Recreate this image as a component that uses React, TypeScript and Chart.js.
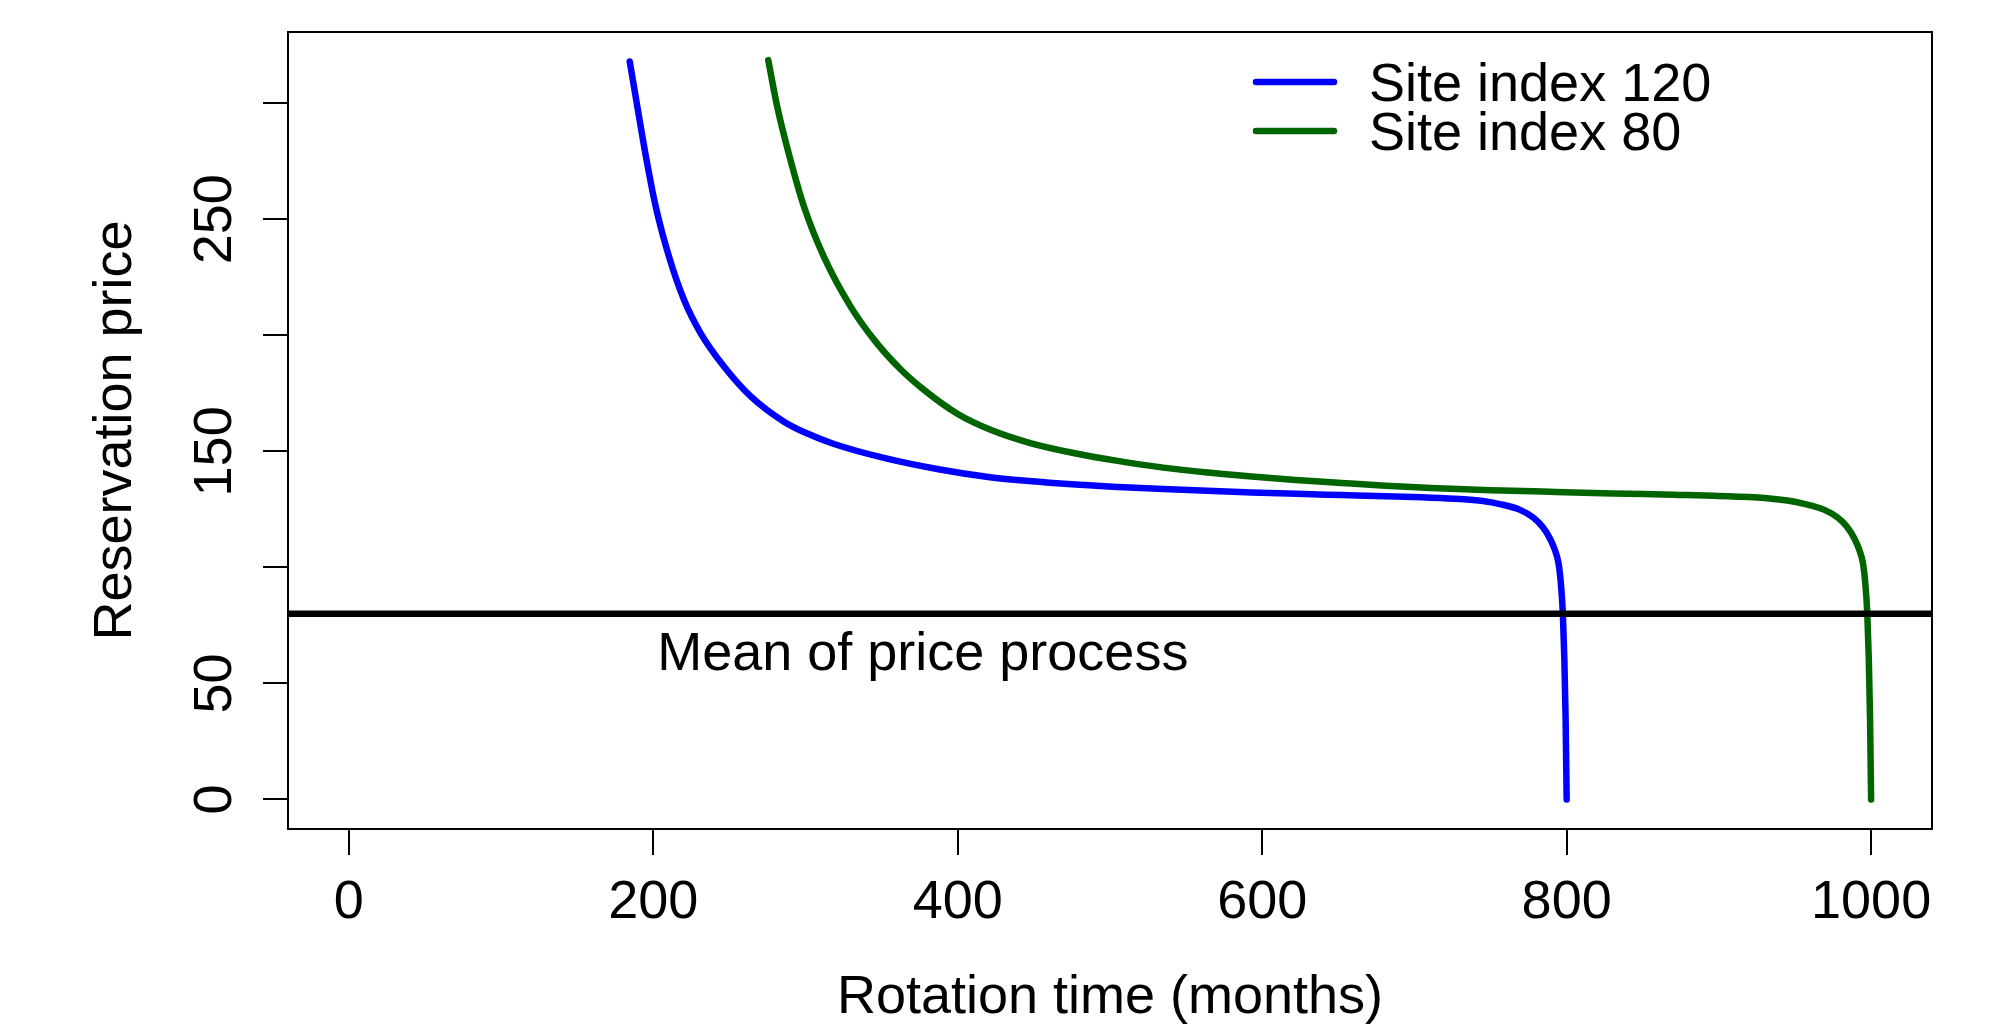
import React, { useEffect, useRef } from 'react';
import { Chart, registerables } from 'chart.js';

Chart.register(...registerables);

// ---- data ----
const X_TICKS = [0, 200, 400, 600, 800, 1000];
const Y_TICKS = [0, 50, 100, 150, 200, 250, 300];
const Y_TICK_LABELS = ['0', '50', '', '150', '', '250', ''];
const X_MIN = -40;
const X_MAX = 1040;
const Y_MIN = -12.72;
const Y_MAX = 330.72;

const SI120_X = [184.5, 189.5, 195, 201.6, 210.3, 220.2, 231.1, 246.4, 264, 285.8, 300, 318.7, 351.5, 388.2, 420, 446.9, 475, 505.5, 535, 564, 593, 622.7, 652, 681.3, 705, 730, 745, 756, 769, 778, 784, 789, 792.2, 794.6, 796.2, 797.5, 798.5, 799.3, 800];
const SI120_Y = [318, 298.5, 277.5, 255.4, 233.9, 215.2, 200.9, 186.6, 173.7, 162.8, 158.0, 153.2, 147.2, 142.2, 139.0, 137.2, 135.8, 134.7, 133.8, 133.0, 132.3, 131.7, 131.2, 130.7, 130.2, 129.5, 128.6, 127.3, 124.9, 121.5, 117.6, 112.5, 107.6, 102, 93, 80, 60, 35, 0];

const SI80_X = [275.5, 281.4, 289.5, 299, 312, 329.6, 346, 362.4, 377.8, 400, 421.5, 447, 476, 505, 535, 564, 593, 622, 652, 681, 711, 750, 789, 830, 870, 900, 930, 945, 956, 969, 978, 984, 989, 992.2, 994.6, 996.2, 997.5, 998.5, 999.3, 1000];
const SI80_Y = [318.6, 298.5, 277, 255.4, 233.9, 212.4, 197.3, 185.4, 176.5, 166.1, 159.3, 153.7, 149.3, 145.9, 143.0, 140.9, 139.2, 137.7, 136.4, 135.2, 134.2, 133.3, 132.6, 131.9, 131.3, 130.8, 129.9, 128.8, 127.4, 124.9, 121.5, 117.6, 112.5, 107.6, 102, 93, 80, 60, 35, 0];

const MEAN_PRICE = 80;
const MEAN_LINE_X = [X_MIN, X_MAX];
const MEAN_LABEL = 'Mean of price process';
const MEAN_LABEL_AT = [377, 64];

const SERIES_NAMES = ['Site index 120', 'Site index 80'];
const SERIES_COLORS = ['#0000ff', '#006400'];
const X_TITLE = 'Rotation time (months)';
const Y_TITLE = 'Reservation price';

const FONT_SIZE = 54;
const FONT = `${FONT_SIZE}px "Liberation Sans", Arial, Helvetica, sans-serif`;
const CURVE_WIDTH = 6.5;

const textPlugin = {
  id: 'rStyleText',
  afterDraw(chart: any) {
    const { ctx, chartArea: a, scales } = chart;
    const xs = scales.x;
    const ys = scales.y;
    const cap = FONT_SIZE * 0.716;
    ctx.save();
    // plot box
    ctx.strokeStyle = '#000';
    ctx.lineWidth = 2;
    ctx.strokeRect(a.left, a.top, a.right - a.left, a.bottom - a.top);

    ctx.fillStyle = '#000';
    ctx.font = FONT;
    ctx.textBaseline = 'alphabetic';
    ctx.textAlign = 'center';

    // x tick labels
    X_TICKS.forEach((v) => {
      ctx.fillText(String(v), xs.getPixelForValue(v), a.bottom + 89);
    });
    // x title
    ctx.fillText(X_TITLE, (a.left + a.right) / 2, a.bottom + 184);

    // y tick labels (rotated)
    Y_TICKS.forEach((v, i) => {
      const lab = Y_TICK_LABELS[i];
      if (!lab) return;
      ctx.save();
      ctx.translate(a.left - 57, ys.getPixelForValue(v));
      ctx.rotate(-Math.PI / 2);
      ctx.fillText(lab, 0, 0);
      ctx.restore();
    });
    // y title
    ctx.save();
    ctx.translate(131, (a.top + a.bottom) / 2);
    ctx.rotate(-Math.PI / 2);
    ctx.fillText(Y_TITLE, 0, 0);
    ctx.restore();

    // mean label
    ctx.fillText(
      MEAN_LABEL,
      xs.getPixelForValue(MEAN_LABEL_AT[0]),
      ys.getPixelForValue(MEAN_LABEL_AT[1]) + cap / 2
    );

    // legend
    ctx.textAlign = 'left';
    SERIES_NAMES.forEach((name, i) => {
      const ly = a.top + 50 + i * 49;
      ctx.strokeStyle = SERIES_COLORS[i];
      ctx.lineWidth = CURVE_WIDTH;
      ctx.lineCap = 'round';
      ctx.beginPath();
      ctx.moveTo(a.right - 676, ly);
      ctx.lineTo(a.right - 598, ly);
      ctx.stroke();
      ctx.fillText(name, a.right - 563, ly + cap / 2);
    });
    ctx.restore();
  },
};

export default function App() {
  const ref = useRef<HTMLCanvasElement | null>(null);

  useEffect(() => {
    document.body.style.margin = '0';
    const canvas = ref.current;
    if (!canvas) return;
    const toPts = (xs: number[], ys: number[]) => xs.map((x, i) => ({ x, y: ys[i] }));
    const chart = new Chart(canvas, {
      type: 'line',
      data: {
        datasets: [
          {
            label: 'mean',
            data: toPts(MEAN_LINE_X, [MEAN_PRICE, MEAN_PRICE]),
            borderColor: '#000',
            borderWidth: 6.5,
            pointRadius: 0,
            borderCapStyle: 'butt',
          },
          {
            label: SERIES_NAMES[0],
            data: toPts(SI120_X, SI120_Y),
            borderColor: SERIES_COLORS[0],
            borderWidth: CURVE_WIDTH,
            pointRadius: 0,
            cubicInterpolationMode: 'monotone',
            borderCapStyle: 'round',
            borderJoinStyle: 'round',
          },
          {
            label: SERIES_NAMES[1],
            data: toPts(SI80_X, SI80_Y),
            borderColor: SERIES_COLORS[1],
            borderWidth: CURVE_WIDTH,
            pointRadius: 0,
            cubicInterpolationMode: 'monotone',
            borderCapStyle: 'round',
            borderJoinStyle: 'round',
          },
        ],
      },
      options: {
        animation: false,
        responsive: false,
        devicePixelRatio: 1,
        layout: { padding: { left: 0, top: 32, right: 64, bottom: 0 } },
        plugins: {
          legend: { display: false },
          tooltip: { enabled: false },
        },
        scales: {
          x: {
            type: 'linear',
            min: X_MIN,
            max: X_MAX,
            afterBuildTicks: (s: any) => {
              s.ticks = X_TICKS.map((v) => ({ value: v }));
            },
            afterFit: (s: any) => {
              s.height = 195;
            },
            ticks: { display: false },
            grid: {
              drawOnChartArea: false,
              drawTicks: true,
              tickLength: 26,
              color: '#000',
              lineWidth: 2,
            },
            border: { display: false },
          },
          y: {
            type: 'linear',
            min: Y_MIN,
            max: Y_MAX,
            afterBuildTicks: (s: any) => {
              s.ticks = Y_TICKS.map((v) => ({ value: v }));
            },
            afterFit: (s: any) => {
              s.width = 288;
            },
            ticks: { display: false },
            grid: {
              drawOnChartArea: false,
              drawTicks: true,
              tickLength: 25,
              color: '#000',
              lineWidth: 2,
            },
            border: { display: false },
          },
        },
      } as any,
      plugins: [textPlugin],
    });
    return () => chart.destroy();
  }, []);

  return (
    <div style={{ width: 1996, height: 1024, background: '#fff' }}>
      <canvas ref={ref} width={1996} height={1024} style={{ display: 'block' }} />
    </div>
  );
}
